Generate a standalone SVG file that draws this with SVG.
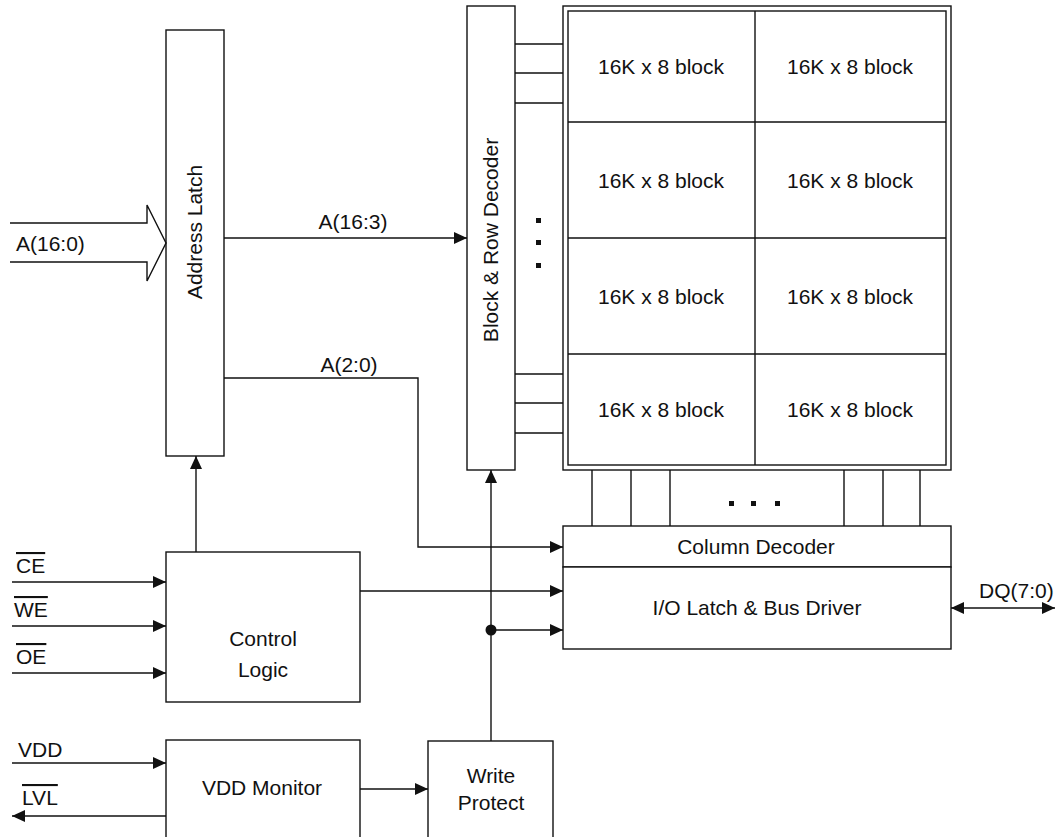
<svg xmlns="http://www.w3.org/2000/svg" width="1059" height="837" viewBox="0 0 1059 837">
<style>
.b{fill:#fff;stroke:#111;stroke-width:1.4}
.l{fill:none;stroke:#111;stroke-width:1.4}
.t{font-family:"Liberation Sans",Arial,sans-serif;font-size:21px;fill:#111}
.m{text-anchor:middle}
.o{text-decoration:overline}
</style>
<defs>
<marker id="ah" markerUnits="userSpaceOnUse" markerWidth="14" markerHeight="12" refX="13" refY="6" orient="auto-start-reverse"><path d="M0,0 L13,6 L0,12 z" fill="#111"/></marker>
</defs>
<rect width="1059" height="837" fill="#fff"/>
<g id="address-latch"><rect class="b" x="166" y="30" width="58" height="426"/><text class="t m" transform="translate(202,232) rotate(-90)">Address Latch</text></g>
<g id="row-decoder"><rect class="b" x="467" y="6" width="48" height="464"/><text class="t m" transform="translate(498,240) rotate(-90)">Block &amp; Row Decoder</text></g>
<g id="memory-array">
<rect class="b" x="563" y="6" width="388" height="464"/>
<rect class="b" x="568" y="11" width="378" height="454"/>
<path class="l" d="M568,122H946M568,238H946M568,354H946M755,11V465"/>
<g class="t m"><text x="661" y="74">16K x 8 block</text><text x="850" y="74">16K x 8 block</text>
<text x="661" y="188">16K x 8 block</text><text x="850" y="188">16K x 8 block</text>
<text x="661" y="304">16K x 8 block</text><text x="850" y="304">16K x 8 block</text>
<text x="661" y="417">16K x 8 block</text><text x="850" y="417">16K x 8 block</text></g>
</g>
<g id="column-decoder"><rect class="b" x="563" y="526" width="388" height="41"/><text class="t m" x="756" y="554">Column Decoder</text></g>
<g id="io-latch"><rect class="b" x="563" y="567" width="388" height="82"/><text class="t m" x="757" y="615">I/O Latch &amp; Bus Driver</text></g>
<g id="control-logic"><rect class="b" x="166" y="552" width="194" height="150"/><text class="t m" x="263" y="646">Control</text><text class="t m" x="263" y="677">Logic</text></g>
<g id="vdd-monitor"><rect class="b" x="166" y="740" width="194" height="120"/><text class="t m" x="262" y="795">VDD Monitor</text></g>
<g id="write-protect"><rect class="b" x="428" y="741" width="125" height="120"/><text class="t m" x="491" y="783">Write</text><text class="t m" x="491" y="810">Protect</text></g>
<g id="connectors">
<path class="l" d="M10,223H147V205L166,243L147,281V262H10"/>
<text class="t" x="16" y="251">A(16:0)</text>
<line class="l" x1="224" y1="238" x2="467" y2="238" marker-end="url(#ah)"/>
<text class="t m" x="353" y="229">A(16:3)</text>
<polyline class="l" points="224,378 418,378 418,547 563,547" marker-end="url(#ah)"/>
<text class="t m" x="349" y="372">A(2:0)</text>
<line class="l" x1="196" y1="552" x2="196" y2="456" marker-end="url(#ah)"/>
<line class="l" x1="360" y1="591" x2="563" y2="591" marker-end="url(#ah)"/>
<line class="l" x1="491" y1="741" x2="491" y2="470" marker-end="url(#ah)"/>
<circle cx="491" cy="630" r="5.5" fill="#111"/>
<line class="l" x1="491" y1="630" x2="563" y2="630" marker-end="url(#ah)"/>
<line class="l" x1="12" y1="582" x2="166" y2="582" marker-end="url(#ah)"/>
<text class="t o" x="16" y="573">CE</text>
<line class="l" x1="12" y1="626" x2="166" y2="626" marker-end="url(#ah)"/>
<text class="t o" x="14" y="617">WE</text>
<line class="l" x1="12" y1="673" x2="166" y2="673" marker-end="url(#ah)"/>
<text class="t o" x="16" y="664">OE</text>
<line class="l" x1="12" y1="763" x2="166" y2="763" marker-end="url(#ah)"/>
<text class="t" x="18" y="757">VDD</text>
<line class="l" x1="166" y1="816" x2="12" y2="816" marker-end="url(#ah)"/>
<text class="t o" x="22" y="805">LVL</text>
<line class="l" x1="360" y1="789" x2="428" y2="789" marker-end="url(#ah)"/>
<line class="l" x1="951" y1="608" x2="1055" y2="608" marker-start="url(#ah)" marker-end="url(#ah)"/>
<text class="t" x="979" y="598">DQ(7:0)</text>
<path class="l" d="M515,44H563M515,73H563M515,103H563M515,374H563M515,403H563M515,433H563"/>
<path class="l" d="M592,470V526M631,470V526M670,470V526M844,470V526M883,470V526M920,470V526"/>
<g fill="#111"><rect x="536" y="218" width="5" height="5"/><rect x="536" y="240" width="5" height="5"/><rect x="536" y="263" width="5" height="5"/>
<rect x="729" y="501" width="5" height="5"/><rect x="751" y="501" width="5" height="5"/><rect x="775" y="501" width="5" height="5"/></g>
</g>
</svg>
